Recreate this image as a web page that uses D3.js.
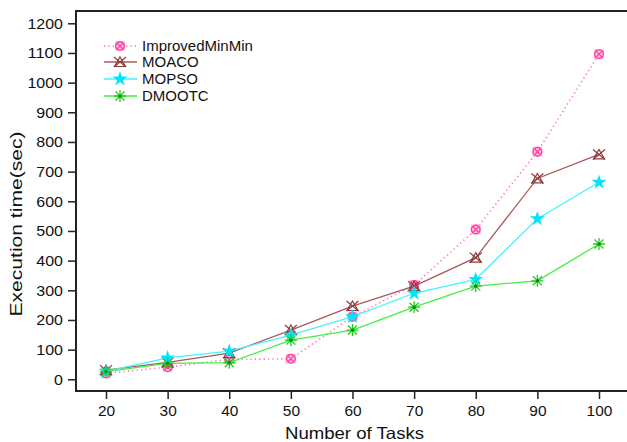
<!DOCTYPE html>
<html>
<head>
<meta charset="utf-8">
<script src="https://cdn.jsdelivr.net/npm/d3@7"></script>
<style>
  html, body { margin: 0; padding: 0; background: #fff; }
  svg { display: block; }
  text { font-family: "Liberation Sans", Arial, sans-serif; fill: #111; }
</style>
</head>
<body>
<svg id="chart" width="627" height="442"></svg>
<script>
const tasks = [20, 30, 40, 50, 60, 70, 80, 90, 100];
const improvedMinMin = [20, 41, 67, 69, 211, 318, 505, 767, 1096];
const moaco = [31, 57, 88, 166, 247, 314, 410, 677, 758];
const mopso = [27, 72, 95, 149, 211, 290, 337, 541, 664];
const dmootc = [26, 54, 56, 132, 166, 243, 314, 332, 456];
const yTicks = [0, 100, 200, 300, 400, 500, 600, 700, 800, 900, 1000, 1100, 1200];
const seriesNames = ["ImprovedMinMin", "MOACO", "MOPSO", "DMOOTC"];

const series = [
  { name: seriesNames[0], values: improvedMinMin, color: "#ff6eb4", mark: "#ff3d9e", dash: "1.2,3.2", type: "circx" },
  { name: seriesNames[1], values: moaco, color: "#a85a5a", mark: "#8e3b3b", dash: null, type: "trix" },
  { name: seriesNames[2], values: mopso, color: "#3ff5ff", mark: "#00e5f5", dash: null, type: "star" },
  { name: seriesNames[3], values: dmootc, color: "#44ee44", mark: "#22cc22", dash: null, type: "aster" }
];

const svg = d3.select("#chart");
const x = d3.scaleLinear().domain([20, 100]).range([106, 599]);
const y = d3.scaleLinear().domain([0, 1200]).range([379.3, 23.3]);

const axLeft = 76, axTop = 11, axBottom = 391;

// frame
svg.append("line").attr("x1", axLeft).attr("x2", 627).attr("y1", axTop).attr("y2", axTop)
  .attr("stroke", "#222").attr("stroke-width", 2);

// y axis
const yAxis = svg.append("g").attr("transform", `translate(${axLeft},0)`)
  .call(d3.axisLeft(y).tickValues(yTicks).tickSize(8).tickPadding(5).tickFormat(d3.format("d")));
yAxis.select(".domain").remove();
yAxis.selectAll(".tick line").attr("stroke", "#222").attr("stroke-width", 1.5);
yAxis.selectAll(".tick text").attr("font-size", 15).attr("font-family", "Liberation Sans, Arial, sans-serif").attr("fill", "#111")
  .attr("textLength", d => String(d).length * 8.9).attr("lengthAdjust", "spacingAndGlyphs");
svg.append("line").attr("x1", axLeft).attr("x2", axLeft).attr("y1", axTop - 1).attr("y2", axBottom + 1)
  .attr("stroke", "#222").attr("stroke-width", 2);

// x axis
const xAxis = svg.append("g").attr("transform", `translate(0,${axBottom})`)
  .call(d3.axisBottom(x).tickValues(tasks).tickSize(8).tickPadding(6).tickFormat(d3.format("d")));
xAxis.select(".domain").remove();
xAxis.selectAll(".tick line").attr("stroke", "#222").attr("stroke-width", 1.5);
xAxis.selectAll(".tick text").attr("font-size", 15).attr("font-family", "Liberation Sans, Arial, sans-serif").attr("fill", "#111")
  .attr("textLength", d => String(d).length * 8.6).attr("lengthAdjust", "spacingAndGlyphs");
svg.append("line").attr("x1", axLeft - 1).attr("x2", 627).attr("y1", axBottom).attr("y2", axBottom)
  .attr("stroke", "#222").attr("stroke-width", 2);

// titles
svg.append("text").attr("x", 354.5).attr("y", 439).attr("text-anchor", "middle")
  .attr("font-size", 16.5).attr("textLength", 139).attr("lengthAdjust", "spacingAndGlyphs")
  .text("Number of Tasks");
svg.append("text").attr("transform", "translate(22,224) rotate(-90)").attr("text-anchor", "middle")
  .attr("font-size", 16).attr("textLength", 185).attr("lengthAdjust", "spacingAndGlyphs")
  .text("Execution time(sec)");

// markers
function drawMarker(g, type, cx, cy, color) {
  const m = g.append("g").attr("transform", `translate(${cx},${cy})`);
  if (type === "circx") {
    m.append("rect").attr("x", -5).attr("y", -5).attr("width", 10).attr("height", 10)
      .attr("fill", "#ffc4e2").attr("stroke", "none");
    m.append("circle").attr("r", 4.3).attr("fill", "none").attr("stroke", color).attr("stroke-width", 1.4);
    m.append("path").attr("d", "M-3,-3L3,3M-3,3L3,-3").attr("stroke", color).attr("stroke-width", 1.2);
  } else if (type === "trix") {
    m.append("path").attr("d", "M0,-5L5.5,4.5L-5.5,4.5Z").attr("fill", "none").attr("stroke", color).attr("stroke-width", 1.2);
    m.append("path").attr("d", "M-6,-5L6,5M-6,5L6,-5").attr("stroke", color).attr("stroke-width", 1.2);
  } else if (type === "star") {
    m.append("path").attr("d", d3.symbol().type(d3.symbolStar).size(70)()).attr("fill", color);
  } else if (type === "aster") {
    m.append("path").attr("d", "M-6,0L6,0M0,-6L0,6M-4.5,-4.5L4.5,4.5M-4.5,4.5L4.5,-4.5")
      .attr("stroke", color).attr("stroke-width", 1.3);
    m.append("circle").attr("r", 1.6).attr("fill", "#0a8a0a");
  }
}

const line = d3.line().x((d, i) => x(tasks[i])).y(d => y(d));
series.forEach(s => {
  const g = svg.append("g");
  g.append("path").attr("d", line(s.values)).attr("fill", "none")
    .attr("stroke", s.color).attr("stroke-width", s.dash ? 1.6 : 1.3)
    .attr("stroke-dasharray", s.dash);
  s.values.forEach((v, i) => drawMarker(g, s.type, x(tasks[i]), y(v), s.mark));
});

// legend
const legendRows = [46, 62, 79, 96];
series.forEach((s, i) => {
  const ly = legendRows[i];
  const g = svg.append("g");
  g.append("line").attr("x1", 104).attr("x2", 137).attr("y1", ly).attr("y2", ly)
    .attr("stroke", s.color).attr("stroke-width", s.dash ? 1.6 : 1.3).attr("stroke-dasharray", s.dash);
  drawMarker(g, s.type, 120, ly, s.mark);
  g.append("text").attr("x", 142).attr("y", ly + 5).attr("font-size", 15).text(s.name);
});
</script>
</body>
</html>
